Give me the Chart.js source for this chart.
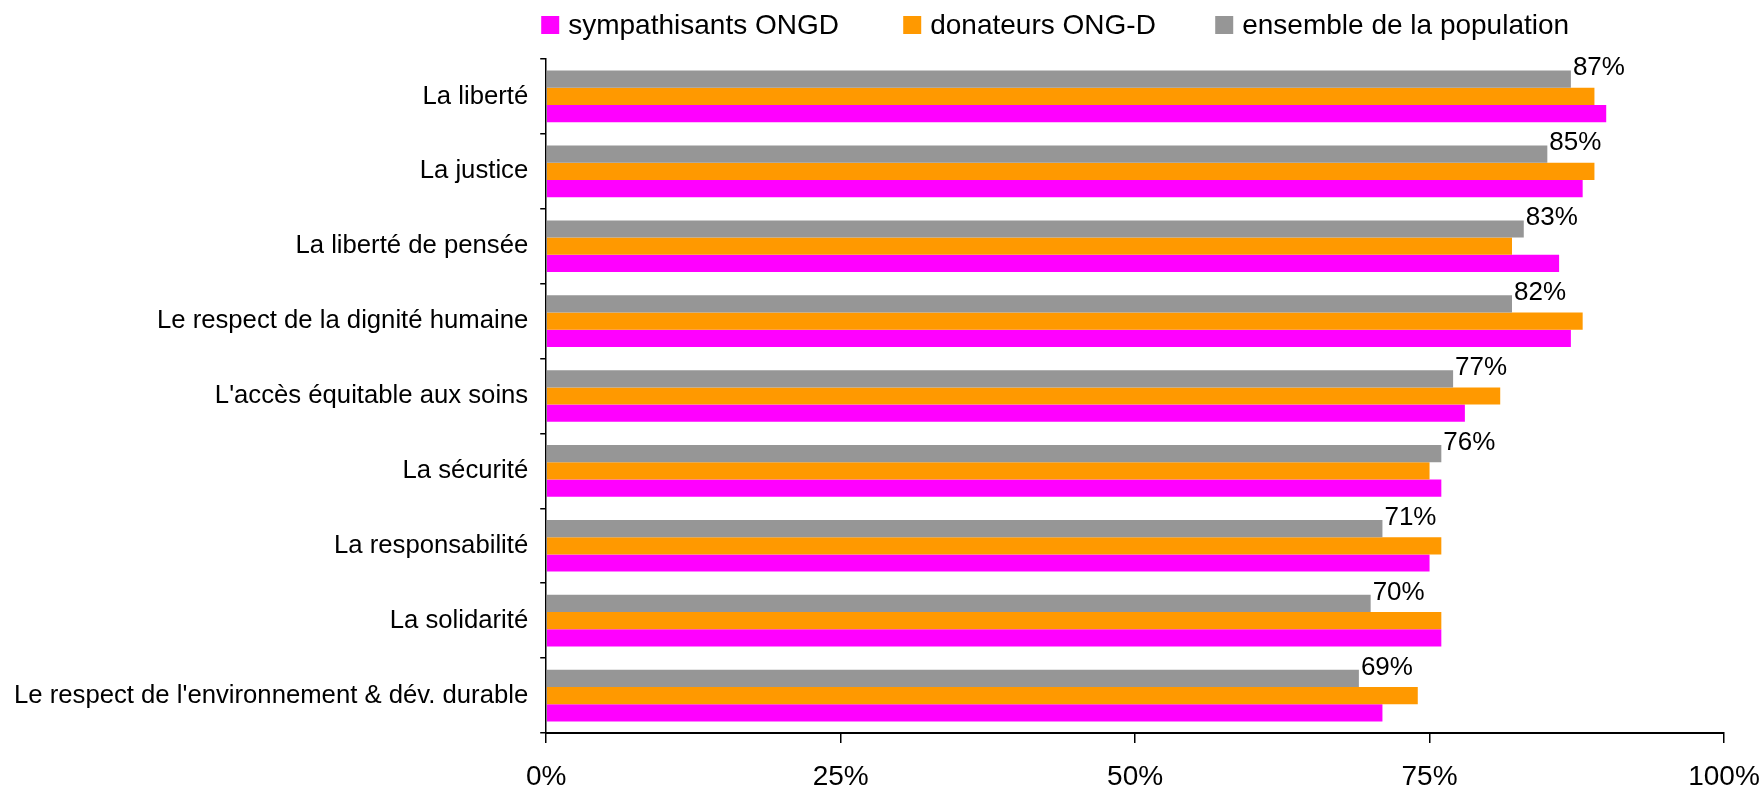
<!DOCTYPE html>
<html>
<head>
<meta charset="utf-8">
<script src="https://cdn.jsdelivr.net/npm/chart.js@4/dist/chart.umd.min.js"></script>
<style>
  html, body { margin: 0; padding: 0; background: #fff; }
  #wrap { width: 1764px; height: 792px; }
</style>
</head>
<body>
<div id="wrap"><canvas id="chart"></canvas></div>
<script>
const categories = [
    'La liberté',
    'La justice',
    'La liberté de pensée',
    'Le respect de la dignité humaine',
    "L'accès équitable aux soins",
    'La sécurité',
    'La responsabilité',
    'La solidarité',
    "Le respect de l'environnement & dév. durable"
];
const ensemble = [87, 85, 83, 82, 77, 76, 71, 70, 69];
const donateurs = [89, 89, 82, 88, 81, 75, 76, 76, 74];
const sympathisants = [90, 88, 86, 87, 78, 76, 75, 76, 71];
const xTicks = [0, 25, 50, 75, 100];

const FONT = "'Liberation Sans', Arial, sans-serif";

// etiquettes de valeur sur la serie grise
const valueLabels = {
    id: 'valueLabels',
    afterDatasetsDraw(chart) {
        const ctx = chart.ctx;
        const meta = chart.getDatasetMeta(0);
        ctx.save();
        ctx.font = '26px ' + FONT;
        ctx.fillStyle = '#000';
        ctx.textAlign = 'left';
        ctx.textBaseline = 'middle';
        meta.data.forEach((bar, i) => {
            ctx.fillText(ensemble[i] + '%', bar.x + 2, bar.y - 11);
        });
        ctx.restore();
    }
};

// legende dessinee a la main (ordre inverse des series)
const legendOffsets = [-5, 357, 669];
const topLegend = {
    id: 'topLegend',
    afterDraw(chart) {
        const ctx = chart.ctx;
        ctx.save();
        ctx.font = '28px ' + FONT;
        ctx.textBaseline = 'middle';
        const y = 25;
        chart.data.datasets.slice().reverse().forEach((ds, i) => {
            const x = chart.chartArea.left + legendOffsets[i];
            ctx.fillStyle = ds.backgroundColor;
            ctx.fillRect(x, y - 9, 18, 18);
            ctx.fillStyle = '#000';
            ctx.fillText(ds.label, x + 27, y + 1);
        });
        ctx.restore();
    }
};

const ctx = document.getElementById('chart').getContext('2d');
const chart = new Chart(ctx, {
    type: 'bar',
    data: {
        labels: categories,
        datasets: [
            { label: 'ensemble de la population', data: ensemble, backgroundColor: '#969696' },
            { label: 'donateurs ONG-D', data: donateurs, backgroundColor: '#FF9900' },
            { label: 'sympathisants ONGD', data: sympathisants, backgroundColor: '#FF00FF' }
        ]
    },
    options: {
        indexAxis: 'y',
        responsive: true,
        maintainAspectRatio: false,
        animation: false,
        datasets: {
            bar: { categoryPercentage: 0.69, barPercentage: 1.0 }
        },
        layout: {
            padding: { top: 59, left: 2, right: 0, bottom: 0 }
        },
        plugins: {
            legend: { display: false },
            tooltip: { enabled: false }
        },
        scales: {
            x: {
                min: 0,
                max: 100,
                afterBuildTicks: axis => { axis.ticks = xTicks.map(v => ({ value: v })); },
                afterFit: axis => {
                    axis.height = 59;
                    axis.paddingRight = 40;
                },
                ticks: {
                    callback: v => v + '%',
                    color: '#000',
                    font: { family: FONT, size: 28 },
                    padding: 17,
                    maxRotation: 0
                },
                grid: { drawOnChartArea: false, drawTicks: true, tickLength: 10, color: '#000', lineWidth: 1.5 },
                border: { color: '#000', width: 2 }
            },
            y: {
                ticks: {
                    color: '#000',
                    font: { family: FONT, size: 25.7 },
                    padding: 12,
                    autoSkip: false
                },
                grid: { offset: true, drawOnChartArea: false, drawTicks: true, tickLength: 6, color: '#000', lineWidth: 1.5 },
                border: { color: '#000', width: 1.5 }
            }
        }
    },
    plugins: [valueLabels, topLegend]
});
</script>
</body>
</html>
